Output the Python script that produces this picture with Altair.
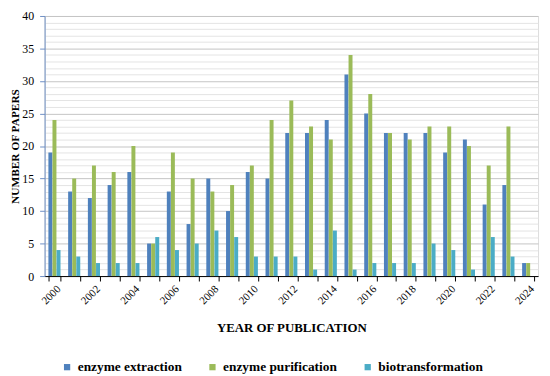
import altair as alt
import pandas as pd

years = list(range(2000, 2025))
extraction = [19, 13, 12, 14, 16, 5, 13, 8, 15, 10, 16, 15, 22, 22, 24, 31, 25, 22, 22, 22, 19, 21, 11, 14, 2]
purification = [24, 15, 17, 16, 20, 5, 19, 15, 13, 14, 17, 24, 27, 23, 21, 34, 28, 22, 21, 23, 23, 20, 17, 23, 2]
biotransformation = [4, 3, 2, 2, 2, 6, 4, 5, 7, 6, 3, 3, 3, 1, 7, 1, 2, 2, 2, 5, 4, 1, 6, 3, 0]
series = ["enzyme extraction", "enzyme purification", "biotransformation"]
colors = ["#4F81BD", "#9BBB59", "#4BACC6"]

rows = []
for i, y in enumerate(years):
    for s, vals in zip(series, [extraction, purification, biotransformation]):
        rows.append({"year": y, "series": s, "value": vals[i]})
df = pd.DataFrame(rows)

SERIF = "Liberation Serif"

bars = alt.Chart(df).mark_bar(size=4).encode(
    x=alt.X("year:O", sort=years,
            scale=alt.Scale(paddingInner=0.38, paddingOuter=0.19),
            axis=alt.Axis(title="YEAR OF PUBLICATION",
                          labelExpr="datum.value % 2 === 0 ? datum.label : ''",
                          labelAngle=-45, labelFont=SERIF, labelFontSize=11,
                          labelColor="#000", tickBand="extent", tickColor="#000",
                          tickSize=5, domainColor="#000", labelPadding=2,
                          titleFont=SERIF, titleFontSize=13, titleFontWeight="bold",
                          titleColor="#000", titlePadding=16)),
    xOffset=alt.XOffset("series:N", sort=series, scale=alt.Scale(paddingInner=0, paddingOuter=0)),
    y=alt.Y("value:Q", scale=alt.Scale(domain=[0, 40], nice=False),
            axis=alt.Axis(title="NUMBER OF PAPERS", values=list(range(0, 41)),
                          labelExpr="datum.value % 5 === 0 ? datum.label : ''",
                          gridColor={"condition": {"test": "datum.value % 5 === 0", "value": "#c4c4c4"}, "value": "#e4e4e4"},
                          tickOpacity={"condition": {"test": "datum.value % 5 === 0", "value": 1}, "value": 0},
                          tickColor="#6E8FC4", domainColor="#6E8FC4", tickSize=5,
                          labelFont=SERIF, labelFontSize=12, labelColor="#000", labelPadding=6,
                          titleFont=SERIF, titleFontSize=11.5, titleFontWeight="bold",
                          titleColor="#000", titlePadding=1)),
    color=alt.Color("series:N", sort=series, scale=alt.Scale(domain=series, range=colors),
                    legend=alt.Legend(title=None, orient="none", direction="horizontal",
                                      legendX=16, legendY=348, columns=3, columnPadding=24,
                                      symbolType="square", symbolSize=40, symbolStrokeWidth=0,
                                      labelFont=SERIF, labelFontSize=13.5, labelFontWeight="bold",
                                      labelColor="#000", symbolOffset=0, labelOffset=4)),
)

chart = bars.properties(
    width=499, height=263,
    autosize=alt.AutoSizeParams(type="none"),
    padding={"left": 37, "top": 6, "right": 4, "bottom": 99},
).configure_view(stroke="#333", strokeWidth=1).configure(background="white")

chart.save("out.html", embed_options={"renderer": "svg", "actions": False})
